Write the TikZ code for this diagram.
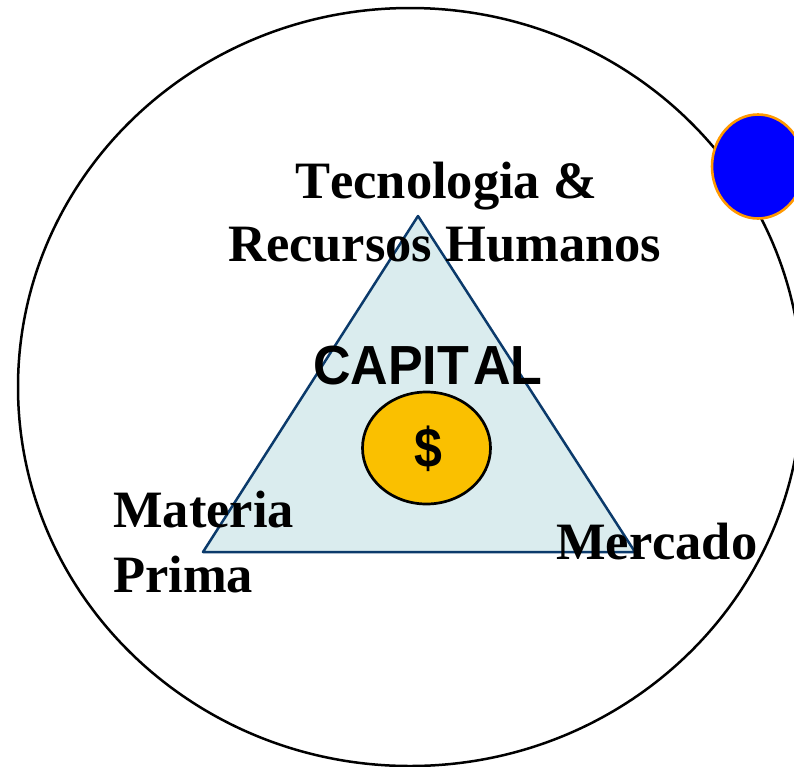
\documentclass[tikz,border=0pt]{standalone}
\usepackage{fontspec}
\setmainfont[Kerning=Off]{Liberation Serif}
\setsansfont[Kerning=Off]{Liberation Sans}
\usetikzlibrary{shapes.geometric}
\definecolor{tri}{HTML}{DAECEE}
\definecolor{triline}{HTML}{0B3A6B}
\definecolor{gold}{HTML}{FAC000}
\definecolor{rim}{HTML}{FF9900}
\tikzset{
  lab/.style={font=\bfseries\fontsize{52.5}{52.5}\selectfont, inner sep=0pt, anchor=base west},
}
\begin{document}
\begin{tikzpicture}[x=1pt,y=-1pt]
\useasboundingbox (0,0) rectangle (794,766);
\clip (0,0) rectangle (794,766);
\node[draw=black,ellipse,minimum width=784,minimum height=758,inner sep=0pt,line width=2.5pt] (big) at (410,387) {};
\node[draw=rim,fill=blue,ellipse,minimum width=92,minimum height=104,inner sep=0pt,line width=2.6pt] (blue) at (758,166.5) {};
\draw[draw=triline,fill=tri,line join=round,line width=2.5pt] (418,216) coordinate (t) -- (635,552) coordinate (r) -- (203,552) coordinate (l) -- cycle;
\node[draw=black,fill=gold,ellipse,minimum width=128,minimum height=112,inner sep=0pt,line width=2.7pt] (coin) at (426.5,448) {};
\node[font=\sffamily\bfseries\fontsize{50}{50}\selectfont,inner sep=0pt,yscale=1.12,transform shape] (dollar) at (428,449) {\$};
\node[lab] (t1) at (295,198) {Tecnologia \&};
\node[lab] (t2) at (228,261) {Recursos Humanos};
\node[lab,font=\sffamily\bfseries\fontsize{52}{52}\selectfont,yscale=1.06,transform shape] (cap) at (313,384) {CAPIT\kern4pt AL};
\node[lab] (m1) at (113,527) {Materia};
\node[lab] (m2) at (113,592) {Prima};
\node[lab] (m3) at (556,559) {Mercado};
\end{tikzpicture}
\end{document}
